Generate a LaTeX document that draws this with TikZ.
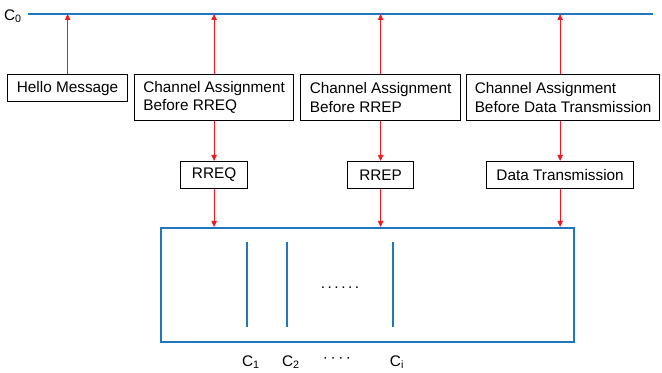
\documentclass[tikz,border=0pt]{standalone}
\usepackage{fontspec}
\setmainfont{Liberation Sans}
\usetikzlibrary{arrows.meta}
\definecolor{chblue}{RGB}{31,119,190}
\definecolor{sigred}{RGB}{235,28,36}

\begin{document}
\begin{tikzpicture}[x=0.75pt, y=-0.75pt,
        font=\fontsize{11.5}{13.8}\selectfont,
        box/.style={draw, line width=0.9pt, align=left, anchor=north west, inner sep=0pt},
        sig/.style={draw=sigred, line width=0.7pt, -{Triangle[length=4.5pt,width=4pt]}, fill=none},
        chan/.style={draw=chblue, line width=2.2pt}]
            \useasboundingbox (0,0) rectangle (662,373);
            % common channel C0
            \coordinate (c0l) at (28,14);
            \coordinate (c0r) at (653,14);
            \draw[chblue, line width=1.6pt] (c0l) -- (c0r);
            \node (c0) at (13,16) {C\textsubscript{0}};
            % upper boxes
            \node[box, minimum width=90pt, minimum height=20.25pt] (hello) at (7,74) {Hello Message};
            \node[box, minimum width=119.25pt, minimum height=34.5pt] (careq) at (134,74) {Channel Assignment\\Before RREQ};
            \node[box, minimum width=120pt, minimum height=34.5pt] (carep) at (300,74) {Channel Assignment\\Before RREP};
            \node[box, minimum width=144.75pt, minimum height=34.5pt] (cadata) at (466,74) {Channel Assignment\\Before Data Transmission};
            % lower boxes
            \node[box, minimum width=50.25pt, minimum height=20.25pt] (rreq) at (180,161) {RREQ};
            \node[box, minimum width=49.5pt, minimum height=20.25pt] (rrep) at (347,161) {RREP};
            \node[box, minimum width=110.25pt, minimum height=20.25pt] (data) at (486,161) {Data Transmission};
            % data channels
            \node[box, draw=chblue, line width=1.3pt, minimum width=309.75pt, minimum height=85.5pt] (chans) at (160,227) {};
            \foreach \x/\s in {247/1, 287/2, 393/i} {
                \draw[chan] (\x,242) -- (\x,327);
                \node (ch\s) at (\x+4,362) {C\textsubscript{\s}};
            }
            \node (dots) at (340,288) {.\,.\,.\,.\,.\,.};
            \node (cdots) at (337,360) {·\,·\,·\,·};
            % signalling arrows
            \draw[sig] (hello.north) -- (hello.north |- c0l);
            \draw[sig] (careq.north) -- (careq.north |- c0l);
            \draw[sig] (carep.north) -- (carep.north |- c0l);
            \draw[sig] (cadata.south -| data.north) -- (data.north);
            \draw[sig] (data.north |- cadata.north) -- (data.north |- c0l);
            \draw[sig] (careq.south) -- (rreq.north);
            \draw[sig] (carep.south) -- (rrep.north);
            \draw[sig] (rreq.south) -- (rreq.south |- chans.north);
            \draw[sig] (rrep.south) -- (rrep.south |- chans.north);
            \draw[sig] (data.south) -- (data.south |- chans.north);
        \end{tikzpicture}
\end{document}
